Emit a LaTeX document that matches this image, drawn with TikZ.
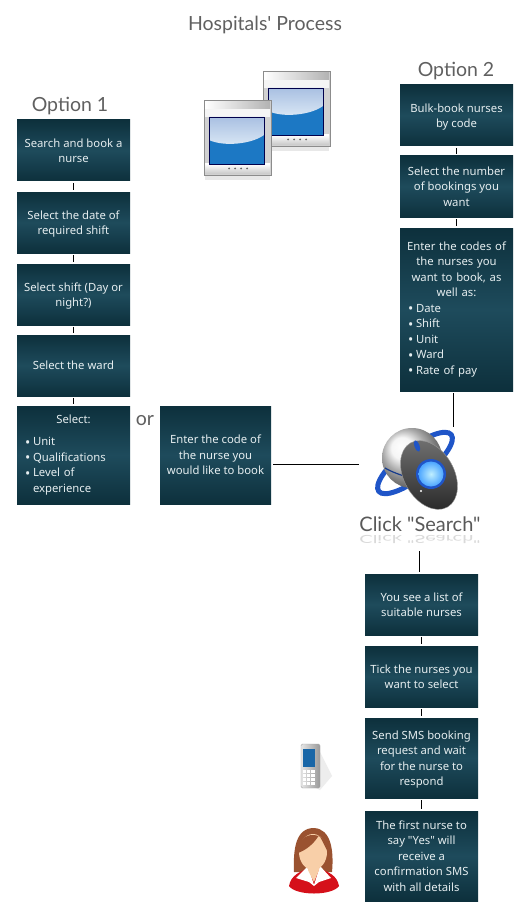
\documentclass[tikz,border=0pt]{standalone}
\usepackage{fontspec}
\newfontfamily\boxfont{Noto Sans}
\newfontfamily\headfont{Lato}
\definecolor{boxdark}{HTML}{0D303C}
\definecolor{boxmid}{HTML}{1E4B5C}
\definecolor{boxtext}{HTML}{E6EEF0}
\definecolor{headgrey}{HTML}{606060}
\definecolor{screenblue}{HTML}{1C78C4}
\definecolor{glasstop}{HTML}{A9C0E2}
\definecolor{glassbottom}{HTML}{DCE9F6}
\definecolor{ringblue}{HTML}{1F55C8}
\definecolor{hairbrown}{HTML}{9A5230}
\definecolor{skin}{HTML}{F8CFA8}
\definecolor{nursered}{HTML}{D5101A}
\newcommand{\bul}{\makebox[8pt][l]{\raisebox{-1.2pt}{\fontsize{14}{14}\selectfont\textbullet}}}
\tikzset{
	boxbase/.style={minimum width=113pt,inner sep=0pt,text=boxtext,
		top color=boxdark,bottom color=boxdark,middle color=boxmid,
		font=\boxfont\fontsize{11.3}{15.5}\selectfont},
	stepbox/.style={boxbase,align=center,text depth=0pt},
	listbox/.style={boxbase,text width=97pt,align=left},
	link/.style={draw=black,line width=1pt,shorten >=2pt,shorten <=2pt},
	headtext/.style={text=headgrey,font=\headfont\fontsize{19.5}{24}\selectfont},
	screenpic/.pic={
		\fill[black!15,opacity=.6] (1,4) rectangle (66,80);
		\fill[black!18] (0,0) rectangle (67,75);
		\shade[left color=white,right color=black!30] (1,1) rectangle (66,9);
		\fill[black!4] (1,9) rectangle (66,17);
		\shade[top color=white,bottom color=black!22] (1,64) rectangle (66,74);
		\draw[black!45] (0,0) rectangle (67,75);
		\fill[screenblue] (5,17) rectangle (60,64);
		\shade[top color=glasstop,bottom color=glassbottom] (5,17) -- (60,17) -- (60,35) .. controls (48,44) and (20,47) .. (5,40) -- cycle;
		\draw[blue!30!black,line width=.8pt] (5,17) rectangle (60,64);
		\foreach \i in {25,31,37,43} \fill[black!60] (\i,68.5) circle (1pt);
	}
}
\begin{document}
\begin{tikzpicture}[x=1pt,y=-1pt]
	\useasboundingbox (0,0) rectangle (530,920);
	\fill[white] (0,0) rectangle (530,920);

	\node[headtext] (title) at (265,25) {Hospitals' Process};
	\node[headtext] (opt1) at (70,106) {Option 1};
	\node[headtext] (opt2) at (456,71) {Option 2};
	\node[headtext] (or) at (145,421) {or};

	% option 1
	\node[stepbox,minimum height=61pt] (b1) at (73.5,150.5) {Search and book a\\nurse};
	\node[stepbox,minimum height=61pt] (b2) at (73.5,222.5) {Select the date of\\required shift};
	\node[stepbox,minimum height=61pt] (b3) at (73.5,294.5) {Select shift (Day or\\night?)};
	\node[stepbox,minimum height=61pt] (b4) at (73.5,365.5) {Select the ward};
	\node[listbox,minimum height=98pt] (b5) at (73.5,455) {\vspace*{4pt}\makebox[\linewidth]{Select:}\\[3pt]\bul Unit\\\bul Qualifications\\\bul Level of\\\hspace*{8pt}experience};
	\node[stepbox,minimum width=111pt,minimum height=98pt] (code) at (215.5,455) {Enter the code of\\the nurse you\\would like to book};

	% option 2
	\node[stepbox,minimum height=61pt] (r1) at (456.5,115.5) {Bulk-book nurses\\by code};
	\node[stepbox,minimum height=61pt] (r2) at (456.5,186.5) {Select the number\\of bookings you\\want};
	\node[listbox,minimum height=163pt] (r3) at (456.5,309.5) {\makebox[\linewidth]{Enter the codes of}\\\makebox[\linewidth]{the nurses you}\\\makebox[\linewidth]{want to book, as}\\\makebox[\linewidth]{well as:}\\\bul Date\\\bul Shift\\\bul Unit\\\bul Ward\\\bul Rate of pay};

	% after search
	\node[stepbox,minimum height=61pt] (list) at (421.5,604.5) {You see a list of\\suitable nurses};
	\node[stepbox,minimum height=61pt] (tick) at (421.5,676.5) {Tick the nurses you\\want to select};
	\node[stepbox,minimum height=80pt] (send) at (421.5,758) {Send SMS booking\\request and wait\\for the nurse to\\respond};
	\node[stepbox,minimum height=90pt] (first) at (421.5,856) {The first nurse to\\say "Yes" will\\receive a\\confirmation SMS\\with all details};

	% monitors
	\pic at (263,71) {screenpic};
	\pic at (204,100) {screenpic};

	% mouse
	\draw[ringblue,line width=5pt] (415,463) ellipse [x radius=46pt,y radius=15pt,rotate=38];
	\shade[ball color=black!5] (412,458) circle (30pt);
	\draw[ringblue!70!black,line width=1.2pt] (385,468) .. controls (392,472) and (400,475) .. (408,477);
	\shade[top color=black!55,bottom color=black!85,draw=black!40,rotate around={30:(429,475)}] (429,475) ellipse [x radius=25pt,y radius=37pt];
	\fill[ringblue] (417,446) ellipse [x radius=2.5pt,y radius=6pt,rotate=20];
	\fill[ringblue] (431,474) circle (15pt);
	\shade[inner color=blue!25!cyan!25,outer color=blue!50!cyan!70] (431,474) circle (12.5pt);
	\fill[white] (421,491) circle (1.2pt);
	\node[text=black!65,font=\headfont\fontsize{20}{24}\selectfont] (search) at (420,524) {Click "Search"};
	\node[text=black!15,yscale=-.55,transform shape,font=\headfont\fontsize{20}{24}\selectfont] (mirror) at (420,540) {Click "Search"};

	% phone
	\fill[black!7] (312,786) -- (320,752) -- (332,776) -- (320,790) -- cycle;
	\shade[left color=black!10,right color=black!40,rounded corners=1.5pt,draw=black!35] (301,744) rectangle (320,788);
	\fill[screenblue!85!black] (302.5,749) rectangle (315,767);
	\foreach \i in {0,1,2} \foreach \j in {0,1,2,3}
		\fill[white] (303+\i*4.2,769.5+\j*4.3) rectangle +(3.2,3);

	% nurse
	\fill[hairbrown] (294,872) .. controls (293,848) and (296,828) .. (314,828) .. controls (331,829) and (334,850) .. (332,872) -- cycle;
	\fill[nursered] (289,886) .. controls (291,875) and (300,872) .. (308,868) -- (319,868) .. controls (328,872) and (337,875) .. (339,886) .. controls (332,896) and (296,896) .. (289,886) -- cycle;
	\fill[white] (296,878) -- (308,866) -- (314,885) -- (320,866) -- (331,878) -- (319,882) -- (314,886) -- (309,882) -- cycle;
	\fill[skin] (308,860) -- (319,860) -- (319,870) -- (314,882) -- (308,870) -- cycle;
	\fill[skin] (313,852) ellipse [x radius=14pt,y radius=18pt];
	\fill[hairbrown] (298,853) .. controls (306,850) and (314,844) .. (319,835) .. controls (323,842) and (326,848) .. (328,853) .. controls (331,832) and (298,826) .. (298,853) -- cycle;

	% connectors
	\draw[link] (b1)--(b2);
	\draw[link] (b2)--(b3);
	\draw[link] (b3)--(b4);
	\draw[link] (b4)--(b5);
	\draw[link] (r1)--(r2);
	\draw[link] (r2)--(r3);
	\draw[link] (list)--(tick);
	\draw[link] (tick)--(send);
	\draw[link] (send)--(first);

	\coordinate (mousetop) at (453,429);
	\coordinate (mouseleft) at (361,464);
	\coordinate (searchfoot) at (419,549);
	\draw[link] (r3.south -| mousetop)--(mousetop);
	\draw[link] (code.east |- mouseleft)--(mouseleft);
	\draw[link] (searchfoot)--(list.north -| searchfoot);
\end{tikzpicture}
\end{document}
